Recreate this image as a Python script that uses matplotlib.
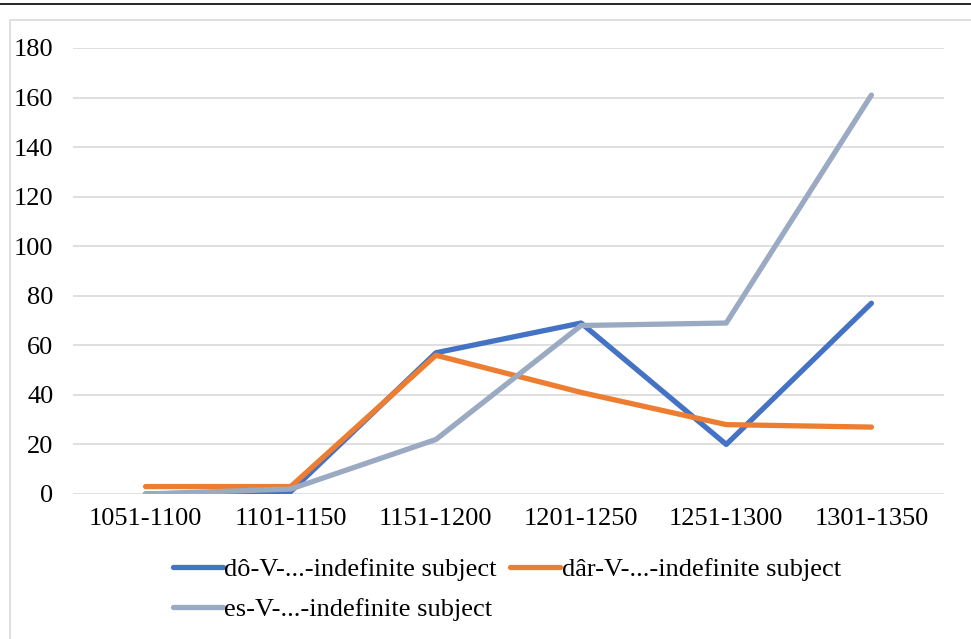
import matplotlib
matplotlib.use("Agg")
import matplotlib.pyplot as plt
from matplotlib.lines import Line2D
from matplotlib.patches import Rectangle

categories = ["1051-1100", "1101-1150", "1151-1200", "1201-1250", "1251-1300", "1301-1350"]
do_vals = [0, 1, 57, 69, 20, 77]
dar_vals = [3, 3, 56, 41, 28, 27]
es_vals = [0, 2, 22, 68, 69, 161]
series_names = ["dô-V-...-indefinite subject", "dâr-V-...-indefinite subject", "es-V-...-indefinite subject"]
yticks = [0, 20, 40, 60, 80, 100, 120, 140, 160, 180]

plt.rcParams['font.family'] = ['Liberation Serif', 'DejaVu Serif']

W, H = 971, 639
fig = plt.figure(figsize=(W / 100, H / 100), dpi=100)

# outer frame decorations
fig.add_artist(Line2D([0, 1], [1 - 4 / H, 1 - 4 / H], color='black', lw=1.2, transform=fig.transFigure))
fig.add_artist(Rectangle((10 / W, -0.05), 1.2, 1 - 20 / H + 0.05, transform=fig.transFigure,
                         fill=False, edgecolor='#d9d9d9', lw=1.2))

ax = fig.add_axes([73 / W, 1 - 494 / H, (944 - 73) / W, (494 - 48) / H])
x = list(range(len(categories)))
colors = ['#4472C4', '#ED7D31', '#9AAAC2']
lines = []
for vals, c, name in zip([do_vals, dar_vals, es_vals], colors, series_names):
    l, = ax.plot(x, vals, color=c, lw=3.8, solid_capstyle='round', solid_joinstyle='round', label=name)
    lines.append(l)

ax.set_xlim(-0.5, len(categories) - 0.5)
ax.set_ylim(0, 180)
ax.set_yticks(yticks)
ax.set_xticks(x)
ax.set_xticklabels(categories)
ax.grid(axis='y', color='#d9d9d9', lw=1.2)
ax.set_axisbelow(True)
for s in ax.spines.values():
    s.set_visible(False)
ax.tick_params(axis='both', length=0, labelsize=19)
ax.tick_params(axis='y', pad=14)
ax.tick_params(axis='x', pad=10)

order = [0, 2, 1]
leg = fig.legend([lines[i] for i in order], [series_names[i] for i in order], ncol=2,
                 loc='upper left', bbox_to_anchor=(173 / W, 1 - 558 / H), frameon=False,
                 fontsize=19, handlelength=1.9, handletextpad=0.05, columnspacing=0.5,
                 labelspacing=0.62, borderaxespad=0, borderpad=0)

fig.savefig("out.png", dpi=100)
